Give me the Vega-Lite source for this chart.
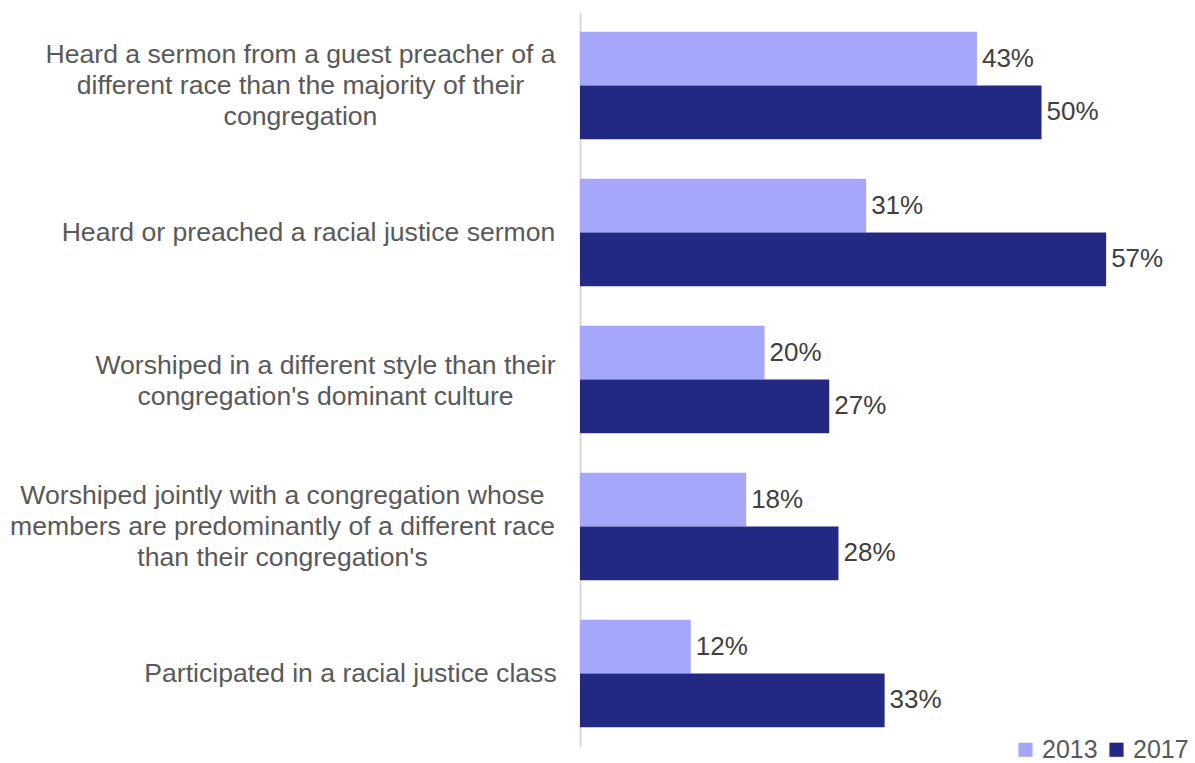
{
  "$schema": "https://vega.github.io/schema/vega-lite/v6.json",
  "width": 600,
  "height": 735,
  "autosize": "none",
  "padding": {"left": 580, "top": 12, "right": 15, "bottom": 16},
  "background": "white",
  "config": {"view": {"stroke": null}, "font": "Liberation Sans"},
  "data": {"values": [
    {"activity": "A", "year": "2013", "value": 0.43},
    {"activity": "A", "year": "2017", "value": 0.50},
    {"activity": "B", "year": "2013", "value": 0.31},
    {"activity": "B", "year": "2017", "value": 0.57},
    {"activity": "C", "year": "2013", "value": 0.20},
    {"activity": "C", "year": "2017", "value": 0.27},
    {"activity": "D", "year": "2013", "value": 0.18},
    {"activity": "D", "year": "2017", "value": 0.28},
    {"activity": "E", "year": "2013", "value": 0.12},
    {"activity": "E", "year": "2017", "value": 0.33}
  ]},
  "encoding": {
    "y": {
      "field": "activity", "type": "nominal", "sort": null,
      "scale": {"paddingInner": 0.27, "paddingOuter": 0.135},
      "axis": {
        "title": null, "ticks": false, "domainColor": "#d9d9d9", "domainWidth": 2,
        "labelExpr": "datum.value == 'A' ? ['Heard a sermon from a guest preacher of a', 'different race than the majority of their', 'congregation'] : datum.value == 'B' ? 'Heard or preached a racial justice sermon' : datum.value == 'C' ? ['Worshiped in a different style than their', 'congregation\\'s dominant culture'] : datum.value == 'D' ? ['Worshiped jointly with a congregation whose', 'members are predominantly of a different race', 'than their congregation\\'s'] : 'Participated in a racial justice class'",
        "labelFont": "Liberation Sans", "labelFontSize": 26.6, "labelColor": "#595959",
        "labelLineHeight": 31, "labelLimit": 700, "labelAlign": "center",
        "labelPadding": {
          "condition": [
            {"test": "datum.value == 'A'", "value": 280},
            {"test": "datum.value == 'B'", "value": 272},
            {"test": "datum.value == 'C'", "value": 255},
            {"test": "datum.value == 'D'", "value": 298}
          ],
          "value": 230
        },
        "labelOffset": {
          "condition": [
            {"test": "datum.value == 'A' || datum.value == 'D'", "value": -30.5},
            {"test": "datum.value == 'C'", "value": -14}
          ],
          "value": 0
        }
      }
    },
    "yOffset": {"field": "year", "type": "nominal", "scale": {"paddingInner": 0}},
    "x": {"field": "value", "type": "quantitative", "scale": {"domain": [0, 0.65]}, "axis": null}
  },
  "layer": [
    {
      "mark": {"type": "bar"},
      "encoding": {
        "color": {
          "field": "year", "type": "nominal",
          "scale": {"domain": ["2013", "2017"], "range": ["#a5a8fa", "#232883"]},
          "legend": {
            "title": null, "orient": "none", "direction": "horizontal",
            "legendX": 433, "legendY": 725, "padding": 0, "symbolType": "square", "symbolSize": 200,
            "symbolStrokeWidth": 0,
            "labelFontSize": 25, "labelColor": "#595959", "labelFont": "Liberation Sans",
            "columnPadding": 6, "labelOffset": 4
          }
        }
      }
    },
    {
      "mark": {"type": "text", "align": "left", "dx": 5, "dy": 0, "fontSize": 26, "color": "#404040", "font": "Liberation Sans"},
      "encoding": {"text": {"field": "value", "type": "quantitative", "format": ".0%"}}
    }
  ]
}
